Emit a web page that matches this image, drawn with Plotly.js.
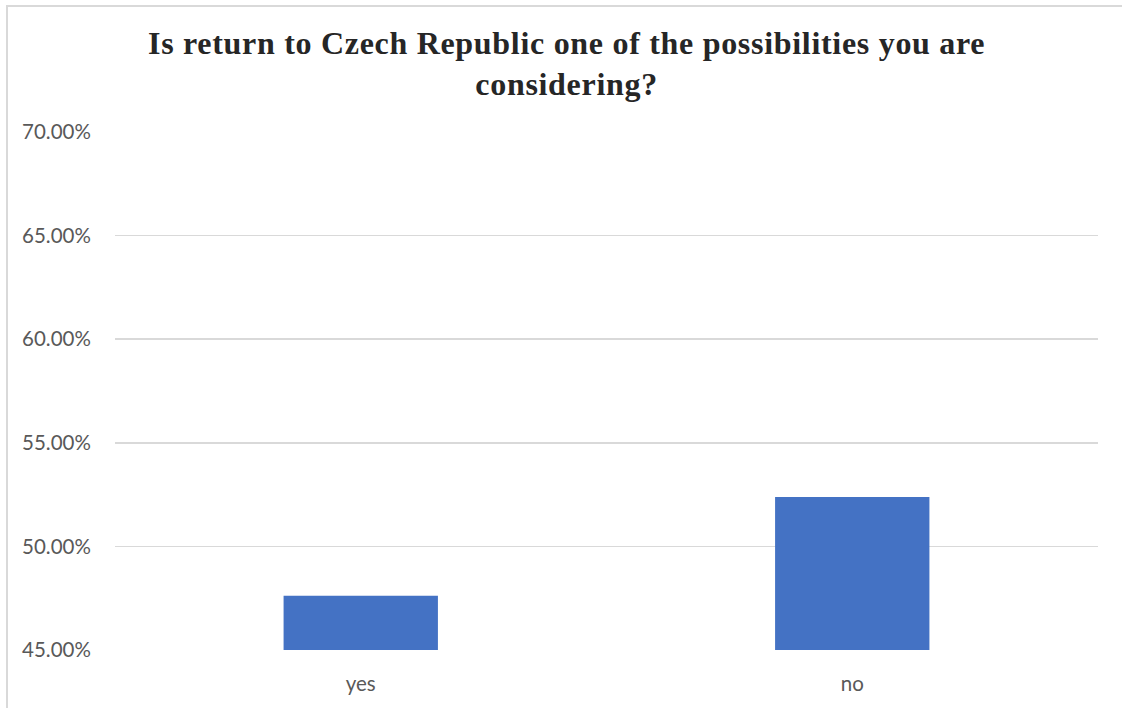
<!DOCTYPE html>
<html><head><meta charset="utf-8">
<script src="https://cdn.plot.ly/plotly-3.0.1.min.js"></script>
<style>
html,body{margin:0;padding:0;background:#fff;overflow:hidden;}
#chart{width:1122px;height:708px;}
#frame{position:absolute;left:6px;top:5px;width:1200px;height:800px;border:2px solid #d9d9d9;pointer-events:none;}
.gtitle{letter-spacing:0.7px;}
</style></head>
<body>
<div id="chart"></div>
<div id="frame"></div>
<script>
const categories = ["yes", "no"];
const shares = [0.4762, 0.5238];
const titleText = "Is return to Czech Republic one of the possibilities you are<br>considering?";

const trace = {
  type: "bar",
  x: categories,
  y: shares,
  marker: {color: "#4472C4"},
  hoverinfo: "x+y"
};

const layout = {
  width: 1122, height: 708,
  margin: {l: 115, r: 24, t: 132, b: 58},
  paper_bgcolor: "#ffffff", plot_bgcolor: "#ffffff",
  bargap: 0.686,
  showlegend: false,
  title: {
    text: titleText,
    font: {family: "Liberation Serif, Times New Roman, serif", size: 32, color: "#262626", weight: "bold"},
    x: 0.505, xanchor: "center", y: 0.924, yanchor: "top"
  },
  xaxis: {
    showgrid: false, zeroline: false, showline: false,
    tickfont: {family: "Lato, Open Sans, sans-serif", size: 20.5, color: "#595959"},
    ticks: "outside", ticklen: 15, tickcolor: "rgba(0,0,0,0)"
  },
  yaxis: {
    range: [0.45, 0.70], tickvals: [0.45, 0.50, 0.55, 0.60, 0.65, 0.70],
    tickformat: ".2%",
    showgrid: true, gridcolor: "#d9d9d9", gridwidth: 1.5,
    zeroline: false, showline: false,
    tickfont: {family: "Lato, Open Sans, sans-serif", size: 20.5, color: "#595959"},
    ticks: "outside", ticklen: 19, tickcolor: "rgba(0,0,0,0)"
  }
};

Plotly.newPlot("chart", [trace], layout, {displayModeBar: false, staticPlot: true});
</script>
</body></html>
